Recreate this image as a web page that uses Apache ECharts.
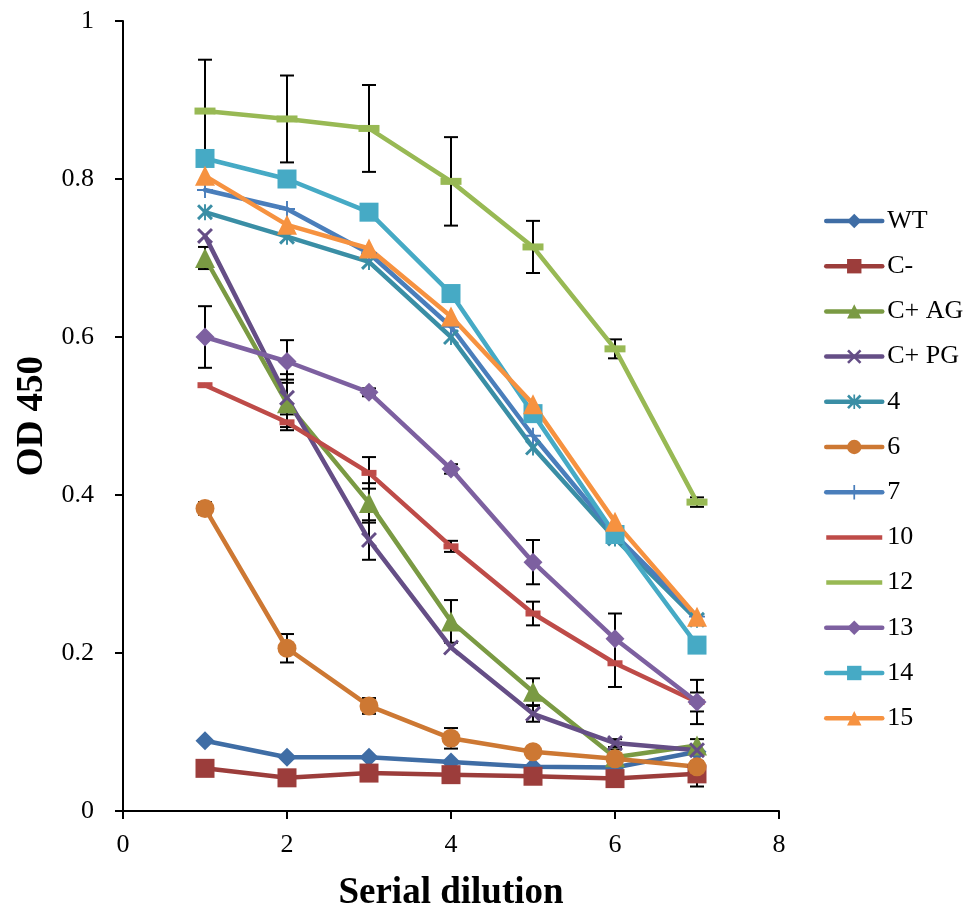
<!DOCTYPE html>
<html>
<head>
<meta charset="utf-8">
<script src="https://cdn.jsdelivr.net/npm/echarts@6/dist/echarts.min.js"></script>
<style>
  html, body { margin: 0; padding: 0; background: #fff; }
  #chart { width: 966px; height: 915px; }
</style>
</head>
<body>
<div id="chart"></div>
<script>
// Serial dilution steps (x) and OD 450 readings per sample
const dilutions = [1, 2, 3, 4, 5, 6, 7];
const xTicks = [0, 2, 4, 6, 8];
const yTicks = [0, 0.2, 0.4, 0.6, 0.8, 1];

const names = ['WT', 'C-', 'C+ AG', 'C+ PG', '4', '6', '7', '10', '12', '13', '14', '15'];

const odWT   = [0.089, 0.068, 0.068, 0.062, 0.056, 0.055, 0.075];
const odCneg = [0.054, 0.042, 0.048, 0.046, 0.044, 0.041, 0.047];
const odCAG  = [0.700, 0.516, 0.390, 0.240, 0.151, 0.068, 0.083];
const odCPG  = [0.728, 0.523, 0.343, 0.207, 0.123, 0.086, 0.077];
const od4    = [0.758, 0.727, 0.695, 0.600, 0.460, 0.345, 0.242];
const od6    = [0.383, 0.206, 0.133, 0.092, 0.075, 0.066, 0.056];
const od7    = [0.786, 0.762, 0.706, 0.613, 0.475, 0.350, 0.246];
const od10   = [0.539, 0.492, 0.428, 0.335, 0.250, 0.187, 0.138];
const od12   = [0.886, 0.876, 0.864, 0.797, 0.714, 0.585, 0.391];
const od13   = [0.600, 0.569, 0.530, 0.433, 0.315, 0.218, 0.138];
const od14   = [0.826, 0.800, 0.758, 0.655, 0.503, 0.350, 0.210];
const od15   = [0.804, 0.742, 0.712, 0.626, 0.515, 0.366, 0.246];

// Standard deviations (null where no bar is drawn)
const sdWT   = [null, null, null, null, null, null, null];
const sdCneg = [null, null, null, null, null, null, 0.016];
const sdCAG  = [0.014, 0.030, 0.025, 0.027, 0.017, 0.010, 0.008];
const sdCPG  = [null, 0.030, 0.025, null, 0.010, 0.005, null];
const sd4    = [null, null, null, null, null, null, null];
const sd6    = [0.008, 0.018, 0.010, 0.013, null, null, null];
const sd7    = [null, null, null, null, null, null, null];
const sd10   = [null, 0.010, 0.020, 0.007, 0.015, 0.030, 0.012];
const sd12   = [0.065, 0.055, 0.055, 0.056, 0.033, 0.012, 0.006];
const sd13   = [0.039, 0.027, 0.005, 0.006, 0.028, 0.032, 0.028];
const sd14   = [null, null, null, null, null, null, null];
const sd15   = [null, null, null, null, null, null, null];

const values = [odWT, odCneg, odCAG, odCPG, od4, od6, od7, od10, od12, od13, od14, od15];
const errors = [sdWT, sdCneg, sdCAG, sdCPG, sd4, sd6, sd7, sd10, sd12, sd13, sd14, sd15];

const colors = ['#3F6DA5', '#9C3D3B', '#7A9A43', '#654E86', '#3A8EA5', '#CD7833',
                '#4A7EBB', '#BE4B48', '#98B954', '#7D60A0', '#46AAC5', '#F69240'];

// Marker shapes
const X_PATH = 'path://M0,1.3 L1.3,0 L10,8.7 L8.7,10 Z M8.7,0 L10,1.3 L1.3,10 L0,8.7 Z';
const STAR_PATH = 'path://M0,1.3 L1.3,0 L10,8.7 L8.7,10 Z M8.7,0 L10,1.3 L1.3,10 L0,8.7 Z M4.4,0 L5.6,0 L5.6,10 L4.4,10 Z';
const PLUS_PATH = 'path://M4.4,0 L5.6,0 L5.6,4.4 L10,4.4 L10,5.6 L5.6,5.6 L5.6,10 L4.4,10 L4.4,5.6 L0,5.6 L0,4.4 L4.4,4.4 Z';
const LINE_ICON = 'path://M0,0 L56,0 L56,4.5 L0,4.5 Z';

const symbols = ['diamond', 'rect', 'triangle', X_PATH, STAR_PATH, 'circle',
                 PLUS_PATH, 'rect', 'rect', 'diamond', 'rect', 'triangle'];
const symbolSizes = [19, 19, 20, 16, 16, 19, 16, [15, 6], [21, 7], 19, 19, 20];

const FONT = '"Liberation Serif", "Times New Roman", serif';

const lineSeries = names.map((name, i) => ({
  name: name,
  type: 'line',
  z: 3,
  data: dilutions.map((x, k) => [x, values[i][k]]),
  symbol: symbols[i],
  symbolSize: symbolSizes[i],
  showAllSymbol: true,
  lineStyle: { color: colors[i], width: 4.5, cap: 'round', join: 'round' },
  itemStyle: { color: colors[i], borderWidth: 0 },
  emphasis: { disabled: true },
  animation: false
}));

// Error bars gathered from all samples: [x, low, high]
const errData = [];
values.forEach((vals, i) => {
  vals.forEach((v, k) => {
    const e = errors[i][k];
    if (e != null) errData.push([dilutions[k], v - e, v + e]);
  });
});

const errorSeries = {
  type: 'custom',
  name: 'sd',
  z: 2,
  data: errData,
  encode: { x: 0, y: [1, 2] },
  renderItem: function (params, api) {
    const x = api.value(0);
    const lo = api.coord([x, api.value(1)]);
    const hi = api.coord([x, api.value(2)]);
    const half = 7;
    const style = { stroke: '#000', lineWidth: 2, fill: null };
    return {
      type: 'group',
      children: [
        { type: 'line', shape: { x1: lo[0], y1: lo[1], x2: hi[0], y2: hi[1] }, style: style },
        { type: 'line', shape: { x1: lo[0] - half, y1: lo[1], x2: lo[0] + half, y2: lo[1] }, style: style },
        { type: 'line', shape: { x1: hi[0] - half, y1: hi[1], x2: hi[0] + half, y2: hi[1] }, style: style }
      ]
    };
  },
  silent: true,
  animation: false
};

const legendData = names.map((n, i) => (i === 7 || i === 8) ? { name: n, icon: LINE_ICON } : { name: n });

const chart = echarts.init(document.getElementById('chart'), null, { renderer: 'canvas' });
chart.setOption({
  backgroundColor: '#fff',
  animation: false,
  grid: { left: 123, top: 21, width: 656, height: 790, containLabel: false, outerBoundsMode: 'none' },
  legend: {
    orient: 'vertical',
    left: 819,
    top: 203,
    itemWidth: 56,
    itemHeight: 18,
    itemGap: 19.2,
    data: legendData,
    lineStyle: { width: 4.5, cap: 'round' },
    textStyle: { fontFamily: FONT, fontSize: 26, color: '#000' },
    selectedMode: false
  },
  xAxis: {
    type: 'value',
    min: xTicks[0],
    max: xTicks[xTicks.length - 1],
    interval: 2,
    name: 'Serial dilution',
    nameLocation: 'middle',
    nameGap: 64,
    nameTextStyle: { fontFamily: FONT, fontSize: 37, fontWeight: 'bold', color: '#000' },
    axisLine: { lineStyle: { color: '#000', width: 2 } },
    axisTick: { show: true, length: 8, lineStyle: { color: '#000', width: 2 } },
    axisLabel: { fontFamily: FONT, fontSize: 26, color: '#000', margin: 21 },
    splitLine: { show: false }
  },
  yAxis: {
    type: 'value',
    min: yTicks[0],
    max: yTicks[yTicks.length - 1],
    interval: 0.2,
    name: 'OD 450',
    nameLocation: 'middle',
    nameRotate: 90,
    nameGap: 72,
    nameTextStyle: { fontFamily: FONT, fontSize: 37, fontWeight: 'bold', color: '#000' },
    axisLine: { show: true, lineStyle: { color: '#000', width: 2 } },
    axisTick: { show: true, length: 8, lineStyle: { color: '#000', width: 2 } },
    axisLabel: { fontFamily: FONT, fontSize: 26, color: '#000', margin: 29,
      formatter: v => String(Math.round(v * 10) / 10) },
    splitLine: { show: false }
  },
  series: [errorSeries].concat(lineSeries)
});
</script>
</body>
</html>
